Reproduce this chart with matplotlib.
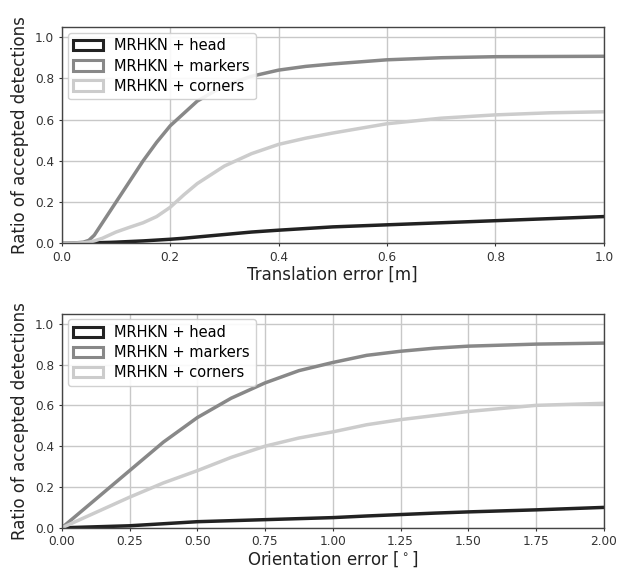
import matplotlib
matplotlib.use("Agg")
import matplotlib.pyplot as plt
from matplotlib.patches import Patch

labels = ["MRHKN + head", "MRHKN + markers", "MRHKN + corners"]
colors = ["#222222", "#888888", "#cccccc"]

# Translation error (m)
tx = [0.0, 0.02, 0.04, 0.05, 0.06, 0.075, 0.09, 0.1, 0.125, 0.15, 0.175, 0.2, 0.225, 0.25, 0.3, 0.35, 0.4, 0.45, 0.5, 0.6, 0.7, 0.8, 0.9, 1.0]
t_head = [0.0, 0.0, 0.001, 0.002, 0.003, 0.004, 0.005, 0.006, 0.009, 0.012, 0.016, 0.02, 0.025, 0.031, 0.043, 0.055, 0.064, 0.072, 0.08, 0.09, 0.1, 0.11, 0.12, 0.13]
t_markers = [0.0, 0.001, 0.006, 0.015, 0.04, 0.1, 0.16, 0.2, 0.3, 0.4, 0.49, 0.57, 0.63, 0.69, 0.765, 0.81, 0.84, 0.858, 0.87, 0.89, 0.9, 0.905, 0.906, 0.907]
t_corners = [0.0, 0.0, 0.003, 0.006, 0.012, 0.025, 0.043, 0.055, 0.078, 0.1, 0.13, 0.175, 0.235, 0.29, 0.375, 0.435, 0.48, 0.51, 0.535, 0.58, 0.607, 0.623, 0.633, 0.638]

# Orientation error (deg)
ox = [0.0, 0.125, 0.25, 0.375, 0.5, 0.625, 0.75, 0.875, 1.0, 1.125, 1.25, 1.375, 1.5, 1.75, 2.0]
o_head = [0.0, 0.005, 0.01, 0.02, 0.03, 0.035, 0.04, 0.045, 0.05, 0.058, 0.065, 0.072, 0.078, 0.088, 0.1]
o_markers = [0.0, 0.14, 0.28, 0.42, 0.54, 0.635, 0.71, 0.77, 0.81, 0.845, 0.865, 0.88, 0.89, 0.9, 0.905]
o_corners = [0.0, 0.075, 0.15, 0.22, 0.28, 0.345, 0.4, 0.44, 0.47, 0.505, 0.53, 0.55, 0.57, 0.6, 0.61]

fig = plt.figure(figsize=(6.18, 5.70), dpi=100)
ax1 = fig.add_axes([0.100, 0.573, 0.877, 0.380])
ax2 = fig.add_axes([0.100, 0.074, 0.877, 0.376])

def style(ax, xlim, xticks, xlabel, fmt):
    ax.set_xlim(*xlim)
    ax.set_ylim(0, 1.05)
    ax.set_xticks(xticks)
    ax.set_xticklabels([fmt % v for v in xticks])
    ax.set_yticks([0, 0.2, 0.4, 0.6, 0.8, 1.0])
    ax.set_yticklabels(["0.0", "0.2", "0.4", "0.6", "0.8", "1.0"])
    ax.grid(True, color="#c8c8c8", linewidth=1.0)
    ax.set_axisbelow(True)
    for s in ax.spines.values():
        s.set_color("#444444")
        s.set_linewidth(1.0)
    ax.tick_params(labelsize=8.7, colors="#333333", length=2.5, width=0.8, pad=3)
    ax.set_xlabel(xlabel, fontsize=12, color="#222222", labelpad=1)
    ax.set_ylabel("Ratio of accepted detections", fontsize=12, color="#222222", labelpad=4)
    handles = [Patch(facecolor="none", edgecolor=c, linewidth=2.2, label=l) for c, l in zip(colors, labels)]
    ax.legend(handles=handles, loc="upper left", fontsize=10.5, framealpha=0.9,
              edgecolor="#cccccc", fancybox=True, handlelength=2.0, borderaxespad=0.4,
              labelspacing=0.35)

for ys, c in zip([t_head, t_markers, t_corners], colors):
    ax1.plot(tx, ys, color=c, linewidth=2.5)
style(ax1, (0, 1.0), [0.0, 0.2, 0.4, 0.6, 0.8, 1.0], "Translation error [m]", "%.1f")

for ys, c in zip([o_head, o_markers, o_corners], colors):
    ax2.plot(ox, ys, color=c, linewidth=2.5)
style(ax2, (0, 2.0), [0.0, 0.25, 0.5, 0.75, 1.0, 1.25, 1.5, 1.75, 2.0], "Orientation error [$^\\circ$]", "%.2f")

fig.savefig("out.png", dpi=100)
